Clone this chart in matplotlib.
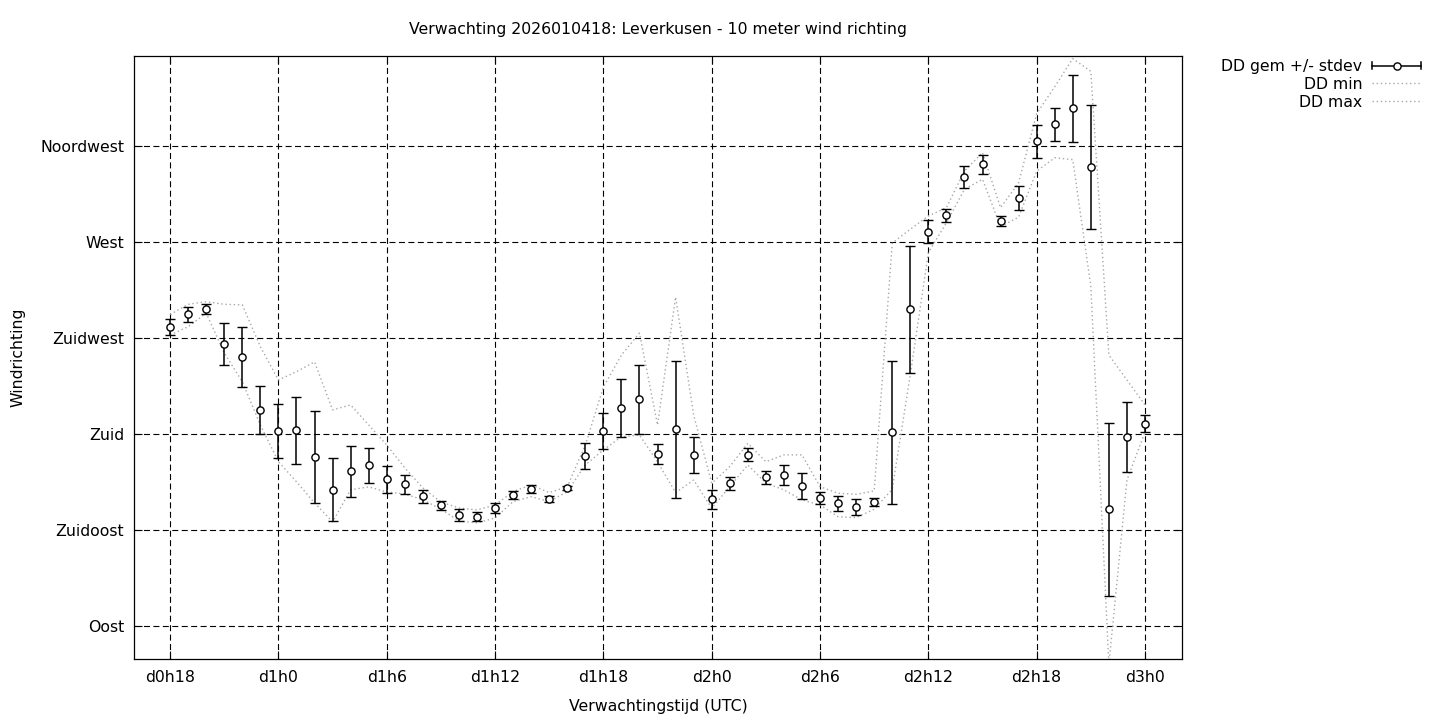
import matplotlib
matplotlib.use("Agg")
import matplotlib.pyplot as plt
from matplotlib.lines import Line2D
from matplotlib.legend_handler import HandlerBase

# ---- data -------------------------------------------------------------
hours = list(range(18, 73))  # forecast hour since d0h0

dd_mean = [230.0, 236.1, 238.5, 222.2, 216.0, 191.3, 181.3, 181.7, 169.1, 153.8,
           162.5, 165.3, 158.8, 156.4, 150.8, 146.6, 141.9, 141.1, 145.2, 151.3,
           154.1, 149.4, 154.5, 169.7, 181.3, 192.2, 196.3, 170.6, 182.2, 170.2,
           149.4, 156.9, 170.2, 159.7, 160.8, 155.6, 149.9, 147.5, 145.8, 148.1,
           180.9, 238.5, 274.7, 282.5, 300.5, 306.4, 279.8, 290.6, 317.2, 325.1,
           332.7, 305.0, 144.7, 178.6, 184.7]

dd_std = [3.75, 3.5, 2.3, 9.8, 14.2, 11.1, 12.6, 15.6, 21.5, 14.8,
          11.9, 8.1, 6.25, 4.5, 3.1, 2.2, 2.7, 2.1, 2.3, 2.0,
          2.0, 1.3, 0.9, 5.9, 8.3, 13.4, 16.1, 4.7, 32.0, 8.4,
          4.5, 3.1, 3.0, 3.0, 4.5, 6.1, 2.7, 3.4, 3.75, 2.1,
          33.5, 29.7, 5.4, 2.9, 5.2, 4.5, 2.3, 5.6, 7.6, 7.8,
          15.7, 29.1, 40.5, 16.5, 4.0]

dd_max = [236.0, 240.8, 242.0, 240.8, 240.5, 220.9, 205.3, 209.2, 213.8, 191.3,
          193.6, 184.2, 174.8, 164.1, 154.7, 148.1, 145.3, 144.4, 146.7, 153.0,
          156.1, 152.5, 155.3, 174.8, 202.0, 217.0, 227.3, 184.2, 244.2, 188.9,
          156.9, 164.7, 175.6, 167.0, 170.2, 170.2, 155.3, 152.2, 151.7, 153.3,
          269.5, 276.0, 282.2, 286.1, 303.3, 311.9, 286.1, 297.7, 330.2, 342.8,
          356.0, 350.0, 217.0, 205.3, 193.6]

dd_min = [226.4, 230.3, 236.6, 218.0, 204.5, 184.2, 167.0, 157.6, 147.7, 138.8,
          153.8, 155.2, 152.8, 151.9, 149.1, 144.8, 139.2, 138.3, 140.6, 148.3,
          150.6, 148.3, 153.0, 165.5, 172.5, 178.7, 179.5, 166.9, 152.5, 158.4,
          145.2, 155.3, 165.5, 156.9, 153.8, 149.1, 146.7, 141.2, 140.8, 144.7,
          154.1, 207.7, 265.0, 279.0, 294.7, 299.4, 277.2, 281.7, 303.2, 309.5,
          308.6, 249.2, 72.0, 158.4, 180.9]

x_ticks = [18, 24, 30, 36, 42, 48, 54, 60, 66, 72]
x_ticklabels = ["d0h18", "d1h0", "d1h6", "d1h12", "d1h18", "d2h0",
                "d2h6", "d2h12", "d2h18", "d3h0"]
y_ticks = [90, 135, 180, 225, 270, 315]
y_ticklabels = ["Oost", "Zuidoost", "Zuid", "Zuidwest", "West", "Noordwest"]

title = "Verwachting 2026010418: Leverkusen - 10 meter wind richting"

# ---- figure -----------------------------------------------------------
plt.rcParams['font.family'] = ['DejaVu Sans']
FS = 11.3

fig = plt.figure(figsize=(14.4, 7.2), dpi=100)
ax = fig.add_axes([134/1440, 1 - 659/720, (1182 - 134)/1440, (659 - 56)/720])

grey = '#a8a8a8'
ax.plot(hours, dd_min, color=grey, lw=1.0, ls=(0, (1, 2)), zorder=2)
ax.plot(hours, dd_max, color=grey, lw=1.0, ls=(0, (1, 2)), zorder=2)
ax.errorbar(hours, dd_mean, yerr=dd_std, fmt='o', color='black',
            mfc='white', mec='black', mew=1.0, ms=5.2,
            ecolor='black', elinewidth=1.1, capsize=3.3, capthick=1.1, zorder=4)

ax.set_xlim(16, 74.05)
ax.set_ylim(74.5, 357.2)
ax.set_xticks(x_ticks)
ax.set_xticklabels(x_ticklabels)
ax.set_yticks(y_ticks)
ax.set_yticklabels(y_ticklabels)
ax.tick_params(direction='in', length=6, width=0.8, top=True, right=True,
               labelsize=FS, colors='black')
ax.tick_params(axis='x', pad=8)
ax.tick_params(axis='y', pad=7)
ax.grid(True, color='black', lw=0.8, ls=(0, (5.4, 3.1)))
for s in ax.spines.values():
    s.set_linewidth(0.9)

ax.set_xlabel("Verwachtingstijd (UTC)", fontsize=FS, va='center')
ax.xaxis.set_label_coords(0.5, (659 - 707) / 603)
ax.set_ylabel("Windrichting", fontsize=FS, va='center')
ax.yaxis.set_label_coords((18 - 134) / 1048, 0.5)

fig.text(658/1440, 1 - 29.5/720, title, ha='center', va='center', fontsize=FS)


# ---- legend (gnuplot style) -------------------------------------------
class HandlerHErr(HandlerBase):
    def create_artists(self, legend, orig_handle, xdescent, ydescent,
                       width, height, fontsize, trans):
        y = height / 2 - ydescent
        x0 = -xdescent
        x1 = x0 + width
        c = height * 0.35
        arts = [
            Line2D([x0, x1], [y, y], color='black', lw=1.1),
            Line2D([x0, x0], [y - c, y + c], color='black', lw=1.1),
            Line2D([x1, x1], [y - c, y + c], color='black', lw=1.1),
            Line2D([(x0 + x1) / 2], [y], marker='o', mfc='white',
                   mec='black', mew=1.0, ms=5.2, ls='none'),
        ]
        for a in arts:
            a.set_transform(trans)
        return arts


h_err = Line2D([], [], color='black')
h_min = Line2D([], [], color=grey, lw=1.0, ls=(0, (1, 2)))
h_max = Line2D([], [], color=grey, lw=1.0, ls=(0, (1, 2)))
fig.legend([h_err, h_min, h_max], ["DD gem +/- stdev", "DD min", "DD max"],
           handler_map={h_err: HandlerHErr()},
           loc='upper right', bbox_to_anchor=(1421/1440, 1 - 59/720),
           bbox_transform=fig.transFigure, frameon=False, markerfirst=False,
           fontsize=FS, handlelength=3.1, handletextpad=0.65,
           labelspacing=0.18, borderpad=0, borderaxespad=0)

fig.savefig("out.png", dpi=100)
